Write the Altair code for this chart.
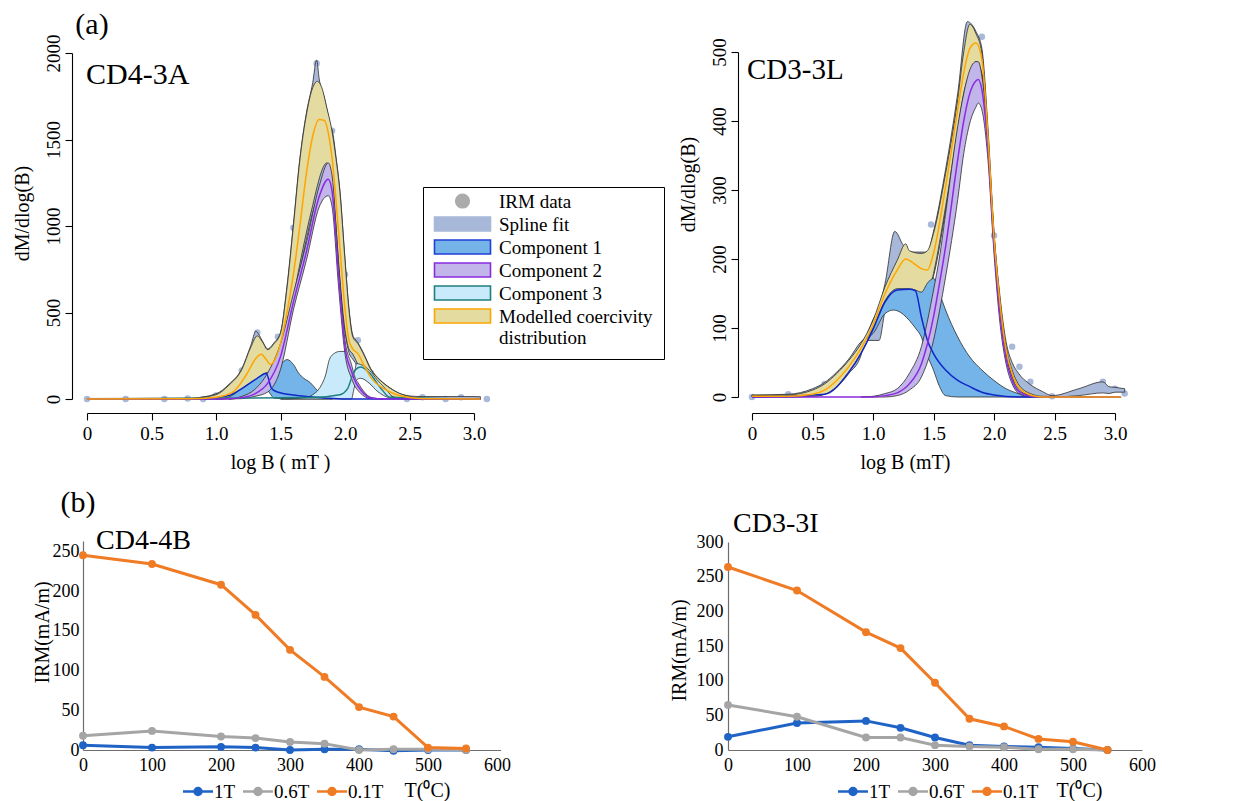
import altair as alt
import pandas as pd

SERIF = "Liberation Serif"

# ---------------- (a) CD4-3A : coercivity unmixing ----------------
tl_pts_x = [0, 0.3, 0.6, 0.78, 0.9, 1.0, 1.2, 1.32, 1.48, 1.6, 1.78, 1.9, 2.0, 2.1, 2.2, 2.48, 2.6, 2.78, 2.9, 3.1]
tl_pts_y = [0, 0, 0, 3, 0, 20, 165, 385, 360, 990, 1940, 1550, 720, 340, 150, 0, 10, 0, 10, 0]

tl_spl_x = [0, 0.8, 1.0, 1.1, 1.2, 1.27, 1.31, 1.33, 1.36, 1.4, 1.45, 1.5, 1.55, 1.6, 1.65, 1.7, 1.75, 1.78, 1.8, 1.84,
            1.87, 1.89, 1.9, 1.93, 1.96, 2.0, 2.03, 2.06, 2.08, 2.1, 2.15, 2.2, 2.27, 2.35, 2.45, 2.55, 2.6, 2.8, 3.0, 3.05]
tl_spl_hi = [3, 5, 30, 85, 175, 310, 392, 375, 335, 290, 325, 385, 650, 1010, 1390, 1650, 1830, 1960, 1850, 1740,
             1640, 1570, 1555, 1400, 1210, 810, 530, 370, 345, 325, 255, 175, 112, 64, 25, 15, 14, 14, 14, 13]
tl_spl_lo = [0, 0, 0, 4, 15, 40, 60, 70, 85, 100, 130, 220, 380, 550, 740, 920, 1080, 1150, 1200, 1300,
             1330, 1280, 1230, 990, 690, 390, 270, 230, 210, 180, 125, 85, 45, 12, 0, 0, 0, 0, 0, 0]

tl_mod_x = [0, 0.8, 1.0, 1.1, 1.2, 1.27, 1.32, 1.36, 1.4, 1.45, 1.5, 1.55, 1.6, 1.65, 1.7, 1.75, 1.785, 1.82, 1.86, 1.9,
            1.93, 1.96, 2.0, 2.03, 2.06, 2.1, 2.15, 2.2, 2.27, 2.35, 2.42, 2.53, 2.6, 3.05]
tl_mod_hi = [0, 3, 25, 80, 170, 300, 365, 330, 285, 320, 380, 640, 1000, 1380, 1640, 1800, 1836, 1800, 1680, 1545,
             1390, 1200, 800, 520, 360, 320, 250, 170, 110, 62, 33, 10, 3, 0]
tl_mod_lo = [0, 0, 0, 5, 20, 50, 80, 95, 110, 150, 260, 420, 590, 780, 960, 1120, 1230, 1320, 1365, 1250,
             1000, 700, 400, 290, 260, 200, 140, 100, 55, 20, 5, 0, 0, 0]
tl_mod_mx = [0, 0.8, 1.0, 1.13, 1.235, 1.31, 1.35, 1.39, 1.42, 1.455, 1.5, 1.55, 1.6, 1.65, 1.7, 1.75, 1.8, 1.84, 1.87,
             1.9, 1.93, 1.96, 2.0, 2.03, 2.06, 2.1, 2.15, 2.2, 2.3, 2.4, 2.5, 2.6, 3.05]
tl_mod_my = [0, 1, 10, 40, 140, 235, 258, 228, 200, 225, 320, 500, 720, 1000, 1300, 1520, 1615, 1610, 1540,
             1390, 1150, 880, 520, 340, 290, 262, 190, 125, 60, 25, 8, 2, 0]

tl_c1_x = [1.0, 1.1, 1.2, 1.3, 1.38, 1.42, 1.45, 1.5, 1.55, 1.6, 1.64, 1.68, 1.73, 1.77, 1.81, 1.9]
tl_c1_hi = [0, 12, 60, 110, 150, 160, 180, 200, 228, 200, 150, 120, 95, 62, 30, 0]
tl_c1_lo = [0, 0, 10, 45, 70, 30, 5, 2, 0, 0, 0, 0, 0, 0, 0, 0]
tl_c1_mx = [0, 0.9, 1.1, 1.2, 1.3, 1.39, 1.43, 1.47, 1.6, 1.73, 1.86, 2.0, 3.05]
tl_c1_my = [0, 0, 20, 60, 110, 148, 62, 42, 23, 13, 5, 0, 0]

tl_c2_x = [1.1, 1.2, 1.3, 1.4, 1.5, 1.6, 1.7, 1.8, 1.87, 1.9, 1.95, 2.0, 2.05, 2.08, 2.1, 2.15, 2.2, 2.3]
tl_c2_hi = [0, 15, 55, 150, 320, 610, 900, 1230, 1365, 1290, 780, 340, 200, 120, 95, 40, 10, 0]
tl_c2_lo = [0, 2, 15, 40, 170, 515, 800, 1110, 1175, 1110, 650, 260, 120, 70, 50, 15, 2, 0]
tl_c2_mx = [0, 1.0, 1.1, 1.2, 1.3, 1.4, 1.5, 1.6, 1.7, 1.8, 1.87, 1.9, 1.95, 2.0, 2.05, 2.08, 2.1, 2.15, 2.2, 2.3, 3.05]
tl_c2_my = [0, 0, 1, 8, 30, 90, 245, 560, 850, 1170, 1270, 1200, 715, 300, 160, 100, 75, 28, 6, 0, 0]

tl_c3_x = [1.5, 1.7, 1.75, 1.8, 1.85, 1.88, 1.92, 1.96, 2.0, 2.02, 2.05, 2.07, 2.09, 2.12, 2.19, 2.25, 2.3, 2.38]
tl_c3_hi = [0, 8, 25, 60, 140, 230, 265, 275, 275, 245, 170, 150, 205, 200, 165, 110, 70, 0]
tl_c3_lo = [0, 0, 0, 0, 0, 0, 0, 0, 0, 0, 0, 60, 110, 120, 90, 45, 20, 0]
tl_c3_mx = [0, 1.73, 1.96, 2.02, 2.06, 2.08, 2.12, 2.19, 2.27, 2.35, 3.05]
tl_c3_my = [0, 8, 25, 60, 140, 168, 185, 150, 70, 10, 0]

# ---------------- (a) CD3-3L ----------------
tr_pts_x = [0, 0.3, 0.6, 1.48, 1.9, 2.0, 2.15, 2.21, 2.3, 2.48, 2.9, 3.0, 3.08]
tr_pts_y = [0, 4, 19, 250, 522, 234, 73, 44, 22, 1, 22, 12, 5]

tr_spl_x = [0, 0.3, 0.5, 0.6, 0.7, 0.8, 0.9, 0.93, 1.0, 1.05, 1.1, 1.18, 1.25, 1.3, 1.45, 1.5, 1.6, 1.7, 1.78, 1.85,
            1.9, 1.95, 2.0, 2.05, 2.1, 2.15, 2.2, 2.3, 2.4, 2.48, 2.7, 2.9, 2.95, 3.0, 3.08]
tr_spl_hi = [3, 4, 12, 21, 36, 55, 80, 85, 112, 130, 165, 240, 220, 210, 210, 240, 330, 440, 544, 530,
             505, 390, 240, 145, 80, 50, 35, 18, 8, 2, 12, 22, 15, 14, 12]
tr_spl_lo = [0, 0, 1, 4, 14, 34, 60, 82, 82, 82, 125, 155, 160, 150, 150, 175, 270, 380, 460, 480,
             465, 365, 225, 125, 58, 22, 8, 2, 0, 0, 2, 6, 5, 7, 7]

tr_mod_x = [0, 0.3, 0.5, 0.6, 0.7, 0.8, 0.9, 1.0, 1.1, 1.2, 1.27, 1.3, 1.4, 1.45, 1.5, 1.6, 1.7, 1.75, 1.8, 1.85,
            1.9, 1.95, 2.0, 2.05, 2.1, 2.15, 2.2, 2.3, 2.4, 3.05]
tr_mod_hi = [2, 3, 10, 19, 34, 53, 77, 111, 160, 198, 222, 212, 208, 212, 237, 324, 431, 500, 540, 527,
             498, 382, 237, 140, 73, 39, 19, 5, 1, 0]
tr_mod_lo = [0, 0, 1, 4, 15, 36, 63, 97, 128, 150, 155, 150, 140, 145, 179, 276, 387, 440, 470, 486,
             469, 368, 227, 131, 63, 29, 10, 2, 0, 0]
tr_mod_my = [1, 1, 4, 10, 24, 44, 70, 104, 150, 184, 200, 198, 186, 184, 208, 305, 416, 470, 505, 513,
             489, 378, 232, 135, 68, 34, 15, 3, 0, 0]

tr_c1_x = [0.95, 1.0, 1.1, 1.17, 1.2, 1.3, 1.35, 1.4, 1.45, 1.5, 1.55, 1.6, 1.7, 1.8, 1.9, 2.0, 2.1, 2.2, 2.3]
tr_c1_hi = [85, 100, 140, 155, 157, 157, 155, 152, 165, 172, 150, 126, 87, 58, 39, 24, 12, 5, 0]
tr_c1_lo = [85, 92, 121, 126, 125, 111, 100, 87, 60, 39, 15, 2, 0, 0, 0, 0, 0, 0, 0]
tr_c1_mx = [0, 0.6, 0.8, 0.9, 1.0, 1.1, 1.2, 1.3, 1.35, 1.4, 1.45, 1.5, 1.6, 1.7, 1.8, 1.9, 2.0, 2.2, 3.05]
tr_c1_my = [0, 4, 36, 63, 98, 138, 155, 156, 154, 116, 82, 63, 39, 24, 15, 7, 3, 0, 0]

tr_c2_x = [0.9, 1.0, 1.1, 1.2, 1.3, 1.4, 1.5, 1.55, 1.6, 1.7, 1.75, 1.8, 1.85, 1.87, 1.9, 1.95, 2.0, 2.05, 2.1,
           2.15, 2.2, 2.3, 2.4]
tr_c2_hi = [0, 1, 5, 12, 34, 73, 155, 203, 266, 392, 440, 474, 486, 486, 465, 373, 232, 131, 63, 29, 12, 2, 0]
tr_c2_lo = [0, 0, 0, 2, 10, 29, 82, 125, 174, 286, 353, 397, 420, 426, 416, 344, 208, 106, 48, 19, 6, 0, 0]
tr_c2_mx = [0, 0.9, 1.0, 1.1, 1.2, 1.3, 1.4, 1.5, 1.55, 1.6, 1.7, 1.75, 1.8, 1.85, 1.87, 1.9, 1.95, 2.0, 2.05,
            2.1, 2.15, 2.2, 2.3, 2.4, 3.05]
tr_c2_my = [0, 0, 0, 2, 6, 19, 48, 116, 165, 218, 344, 400, 440, 458, 460, 445, 360, 220, 118, 55, 24, 9, 1, 0, 0]

# ---------------- (b) thermal demagnetisation of 3-axis IRM ----------------
series = ["1T", "0.6T", "0.1T"]
bl_T = [0, 100, 200, 250, 300, 350, 400, 450, 500, 555]
bl_1T = [6, 3, 4, 3, 0, 1, 1, -1, 0, 0]
bl_06T = [18, 24, 17, 15, 10, 8, 0, 1, 1, 0]
bl_01T = [245, 234, 208, 170, 126, 92, 54, 42, 3, 2]

br_T = [0, 100, 200, 250, 300, 350, 400, 450, 500, 550]
br_1T = [19, 39, 42, 32, 18, 7, 5, 4, 2, 0]
br_06T = [65, 48, 18, 18, 7, 5, 4, 1, 1, 0]
br_01T = [264, 230, 170, 147, 97, 45, 34, 16, 12, 0]

legend_items = ["IRM data", "Spline fit", "Component 1", "Component 2", "Component 3",
                "Modelled coercivity distribution"]

# ---------------- styling ----------------
C_PTS = "#A9B9DA"
C_SPL = "#A8B8D8"
C_MOD_F, C_MOD_L = "#E3DBA0", "#FFA500"
C_C1_F, C_C1_L = "#74B4E8", "#1028C8"
C_C2_F, C_C2_L = "#C1B5E9", "#8B2BE0"
C_C3_F, C_C3_L = "#C9EAFA", "#1F7F80"
OUTLINE = "#2b2b2b"
SER_COLORS = ["#1F63C6", "#A5A5A5", "#F07B25"]


def sc(dom, rng):
    return alt.Scale(domain=dom, range=rng, nice=False, zero=False)


TL_X, TL_Y = sc([0, 3], [87, 474]), sc([0, 2000], [399, 53])
TR_X, TR_Y = sc([0, 3], [752, 1115]), sc([0, 500], [397, 52])
BL_X, BL_Y = sc([0, 605], [83, 500.5]), sc([0, 263], [750, 541])
BR_X, BR_Y = sc([0, 600], [728, 1142]), sc([0, 300], [750, 542])

TOP_AX = dict(domainColor="black", domainWidth=1.1, tickColor="black", tickWidth=1.1, tickSize=7,
              labelFont=SERIF, labelFontSize=19, labelColor="black", labelOverlap=False, labelFlush=False,
              grid=False, titleFont=SERIF, titleFontSize=20, titleFontWeight="normal", titleColor="black",
              format="d")
BOT_AX = dict(domainColor="#6d6d6d", domainWidth=1.2, ticks=False, tickSize=0,
              labelFont=SERIF, labelFontSize=18, labelColor="black", labelOverlap=False, labelFlush=False,
              grid=False, titleFont=SERIF, titleFontSize=20, titleFontWeight="normal", titleColor="black",
              format="d")


def band(xs, lo, hi, fill, SX, SY):
    df = pd.DataFrame({"x": xs, "lo": lo, "hi": hi})
    return alt.Chart(df).mark_area(fill=fill, stroke=OUTLINE, strokeWidth=0.8, interpolate="monotone",
                                   opacity=1).encode(
        x=alt.X("x:Q", scale=SX, axis=None),
        y=alt.Y("hi:Q", scale=SY, axis=None),
        y2=alt.Y2("lo:Q"))


def curve(xs, ys, color, SX, SY, w=1.5):
    df = pd.DataFrame({"x": xs, "y": ys})
    return alt.Chart(df).mark_line(color=color, strokeWidth=w, interpolate="monotone").encode(
        x=alt.X("x:Q", scale=SX, axis=None),
        y=alt.Y("y:Q", scale=SY, axis=None))


def points(xs, ys, SX, SY, xaxis, yaxis):
    df = pd.DataFrame({"x": xs, "y": ys})
    return alt.Chart(df).mark_circle(size=42, color=C_PTS, opacity=1).encode(
        x=alt.X("x:Q", scale=SX, axis=xaxis),
        y=alt.Y("y:Q", scale=SY, axis=yaxis))


LOGB_LABELS = "datum.value == 0 ? '0' : format(datum.value, '.1f')"
TOP_X = {k: v for k, v in TOP_AX.items() if k != "format"}

tl_xaxis = alt.Axis(orient="bottom", offset=413 - 801, values=[0, 0.5, 1, 1.5, 2, 2.5, 3],
                    labelExpr=LOGB_LABELS, labelPadding=4, title="log B ( mT )",
                    titleX=280, titleY=49, titleAlign="center", titleBaseline="middle", **TOP_X)
tl_yaxis = alt.Axis(orient="left", offset=-72, values=[0, 500, 1000, 1500, 2000], labelAngle=270,
                    labelAlign="center", labelBaseline="bottom", labelPadding=2, title="dM/dlog(B)",
                    titleX=22 - 72, titleY=213, titleAngle=270, titleAlign="center",
                    titleBaseline="middle", **TOP_AX)
tr_xaxis = alt.Axis(orient="bottom", offset=413 - 801, values=[0, 0.5, 1, 1.5, 2, 2.5, 3],
                    labelExpr=LOGB_LABELS, labelPadding=4, title="log B (mT)",
                    titleX=905, titleY=49, titleAlign="center", titleBaseline="middle", **TOP_X)
tr_yaxis = alt.Axis(orient="left", offset=-738, values=[0, 100, 200, 300, 400, 500], labelAngle=270,
                    labelAlign="center", labelBaseline="bottom", labelPadding=2, title="dM/dlog(B)",
                    titleX=688 - 738, titleY=184, titleAngle=270, titleAlign="center",
                    titleBaseline="middle", **TOP_AX)

layers = []
# ---- CD4-3A ----
layers += [
    points(tl_pts_x, tl_pts_y, TL_X, TL_Y, tl_xaxis, tl_yaxis),
    band(tl_spl_x, tl_spl_lo, tl_spl_hi, C_SPL, TL_X, TL_Y),
    band(tl_mod_x, tl_mod_lo, tl_mod_hi, C_MOD_F, TL_X, TL_Y),
    band(tl_c1_x, tl_c1_lo, tl_c1_hi, C_C1_F, TL_X, TL_Y),
    band(tl_c3_x, tl_c3_lo, tl_c3_hi, C_C3_F, TL_X, TL_Y),
    band(tl_c2_x, tl_c2_lo, tl_c2_hi, C_C2_F, TL_X, TL_Y),
    curve(tl_c1_mx, tl_c1_my, C_C1_L, TL_X, TL_Y),
    curve(tl_c3_mx, tl_c3_my, C_C3_L, TL_X, TL_Y),
    curve(tl_c2_mx, tl_c2_my, C_C2_L, TL_X, TL_Y),
    curve(tl_mod_mx, tl_mod_my, C_MOD_L, TL_X, TL_Y),
]
# ---- CD3-3L ----
layers += [
    points(tr_pts_x, tr_pts_y, TR_X, TR_Y, tr_xaxis, tr_yaxis),
    band(tr_spl_x, tr_spl_lo, tr_spl_hi, C_SPL, TR_X, TR_Y),
    band(tr_mod_x, tr_mod_lo, tr_mod_hi, C_MOD_F, TR_X, TR_Y),
    band(tr_c1_x, tr_c1_lo, tr_c1_hi, C_C1_F, TR_X, TR_Y),
    band(tr_c2_x, tr_c2_lo, tr_c2_hi, C_C2_F, TR_X, TR_Y),
    curve(tr_c1_mx, tr_c1_my, C_C1_L, TR_X, TR_Y),
    curve(tr_c2_mx, tr_c2_my, C_C2_L, TR_X, TR_Y),
    curve(tr_mod_x, tr_mod_my, C_MOD_L, TR_X, TR_Y),
]

# ---- legend of panel (a) ----
RECT = "M-3.5,-1.69H3.5V0.06H-3.5Z"
CIRC = "M0.85,-0.81A0.85,0.85,0,1,1,-0.85,-0.81A0.85,0.85,0,1,1,0.85,-0.81Z"
top_leg = alt.Legend(orient="none", legendX=423, legendY=187, title=None, strokeColor="black",
                     fillColor="white", padding=11, symbolSize=256, symbolStrokeWidth=1.6, symbolOpacity=1,
                     symbolOffset=19, labelOffset=27, labelFont=SERIF, labelFontSize=19, labelColor="black",
                     labelBaseline="alphabetic", rowPadding=1, labelLimit=400,
                     labelExpr="datum.label == 'Modelled coercivity distribution' ? "
                               "['Modelled coercivity', 'distribution'] : datum.label")
leg_df = pd.DataFrame({"item": legend_items})
layers.append(
    alt.Chart(leg_df).mark_point(filled=True, opacity=0).encode(
        fill=alt.Fill("item:N", scale=alt.Scale(domain=legend_items,
                      range=["#ABABAB", C_SPL, C_C1_F, C_C2_F, C_C3_F, C_MOD_F]), legend=top_leg),
        stroke=alt.Stroke("item:N", scale=alt.Scale(domain=legend_items,
                          range=["#ABABAB", C_SPL, "#1F3FD9", C_C2_L, C_C3_L, C_MOD_L]), legend=top_leg),
        shape=alt.Shape("item:N", scale=alt.Scale(domain=legend_items,
                        range=[CIRC, RECT, RECT, RECT, RECT, RECT]), legend=top_leg),
    )
)

# ---- panel (b) ----
DOTLINE = ("M-3,0H3M0.7,0A0.7,0.7,0,1,1,-0.7,0A0.7,0.7,0,1,1,0.7,0"
           "M0.35,0A0.35,0.35,0,1,1,-0.35,0A0.35,0.35,0,1,1,0.35,0"
           "M0.05,0A0.05,0.05,0,1,1,-0.05,0A0.05,0.05,0,1,1,0.05,0")


def thermal(T, s1, s2, s3, SX, SY, xaxis, yaxis, legx):
    rows = []
    for name, vals in zip(series, [s1, s2, s3]):
        for t, v in zip(T, vals):
            rows.append({"T": t, "IRM": v, "field": name})
    df = pd.DataFrame(rows)
    leg = alt.Legend(orient="none", legendX=legx, legendY=782, direction="horizontal", title=None,
                     symbolType=DOTLINE, symbolSize=100, symbolStrokeWidth=2.5, symbolOffset=5.5,
                     labelOffset=6.5, columnPadding=2, gridAlign="none", padding=0, labelFont=SERIF,
                     labelFontSize=19, labelColor="black")
    return alt.Chart(df).mark_line(strokeWidth=3, point=alt.OverlayMarkDef(filled=True, size=62)).encode(
        x=alt.X("T:Q", scale=SX, axis=xaxis),
        y=alt.Y("IRM:Q", scale=SY, axis=yaxis),
        color=alt.Color("field:N", scale=alt.Scale(domain=series, range=SER_COLORS), legend=leg),
        order=alt.Order("T:Q"),
    )


bl_xaxis = alt.Axis(orient="bottom", offset=750 - 801, values=[0, 100, 200, 300, 400, 500, 600],
                    labelPadding=6, title="T(⁰C)", titleX=427, titleY=40, titleAlign="center",
                    titleBaseline="middle", **BOT_AX)
bl_yaxis = alt.Axis(orient="left", offset=-83, values=[0, 50, 100, 150, 200, 250], labelPadding=4,
                    title="IRM(mA/m)", titleX=42 - 83, titleY=632, titleAngle=270, titleAlign="center",
                    titleBaseline="middle", **BOT_AX)
br_xaxis = alt.Axis(orient="bottom", offset=750 - 801, values=[0, 100, 200, 300, 400, 500, 600],
                    labelPadding=6, title="T(⁰C)", titleX=1079, titleY=40, titleAlign="center",
                    titleBaseline="middle", **BOT_AX)
br_yaxis = alt.Axis(orient="left", offset=-728, values=[0, 50, 100, 150, 200, 250, 300], labelPadding=5,
                    title="IRM(mA/m)", titleX=679.5 - 728, titleY=650, titleAngle=270, titleAlign="center",
                    titleBaseline="middle", **BOT_AX)

layers.append(thermal(bl_T, bl_1T, bl_06T, bl_01T, BL_X, BL_Y, bl_xaxis, bl_yaxis, 183))
layers.append(thermal(br_T, br_1T, br_06T, br_01T, BR_X, BR_Y, br_xaxis, br_yaxis, 838))


# ---- panel labels ----
def label(text, x, y, size, align="left"):
    return alt.Chart(alt.Data(values=[{}])).mark_text(
        text=text, font=SERIF, fontSize=size, align=align, baseline="middle", color="black"
    ).encode(x=alt.value(x), y=alt.value(y))


layers += [
    label("(a)", 92, 25, 30, "center"),
    label("CD4-3A", 86, 75, 30),
    label("CD3-3L", 747, 70, 29),
    label("(b)", 78, 503, 30, "center"),
    label("CD4-4B", 96, 541, 28),
    label("CD3-3I", 733, 524, 28),
]

chart = alt.layer(*layers).resolve_scale(
    x="independent", y="independent", color="independent", fill="independent",
    stroke="independent", shape="independent"
).resolve_axis(x="independent", y="independent").resolve_legend(
    color="independent", fill="independent", stroke="independent", shape="independent"
).properties(
    width=1260, height=801, padding=0, autosize=alt.AutoSizeParams(type="none"), background="white"
).configure(font=SERIF).configure_axis(labelFont=SERIF, titleFont=SERIF).configure_legend(
    labelFont=SERIF
).configure_view(stroke=None)

chart.save("out.html", embed_options={"renderer": "svg", "actions": False})
